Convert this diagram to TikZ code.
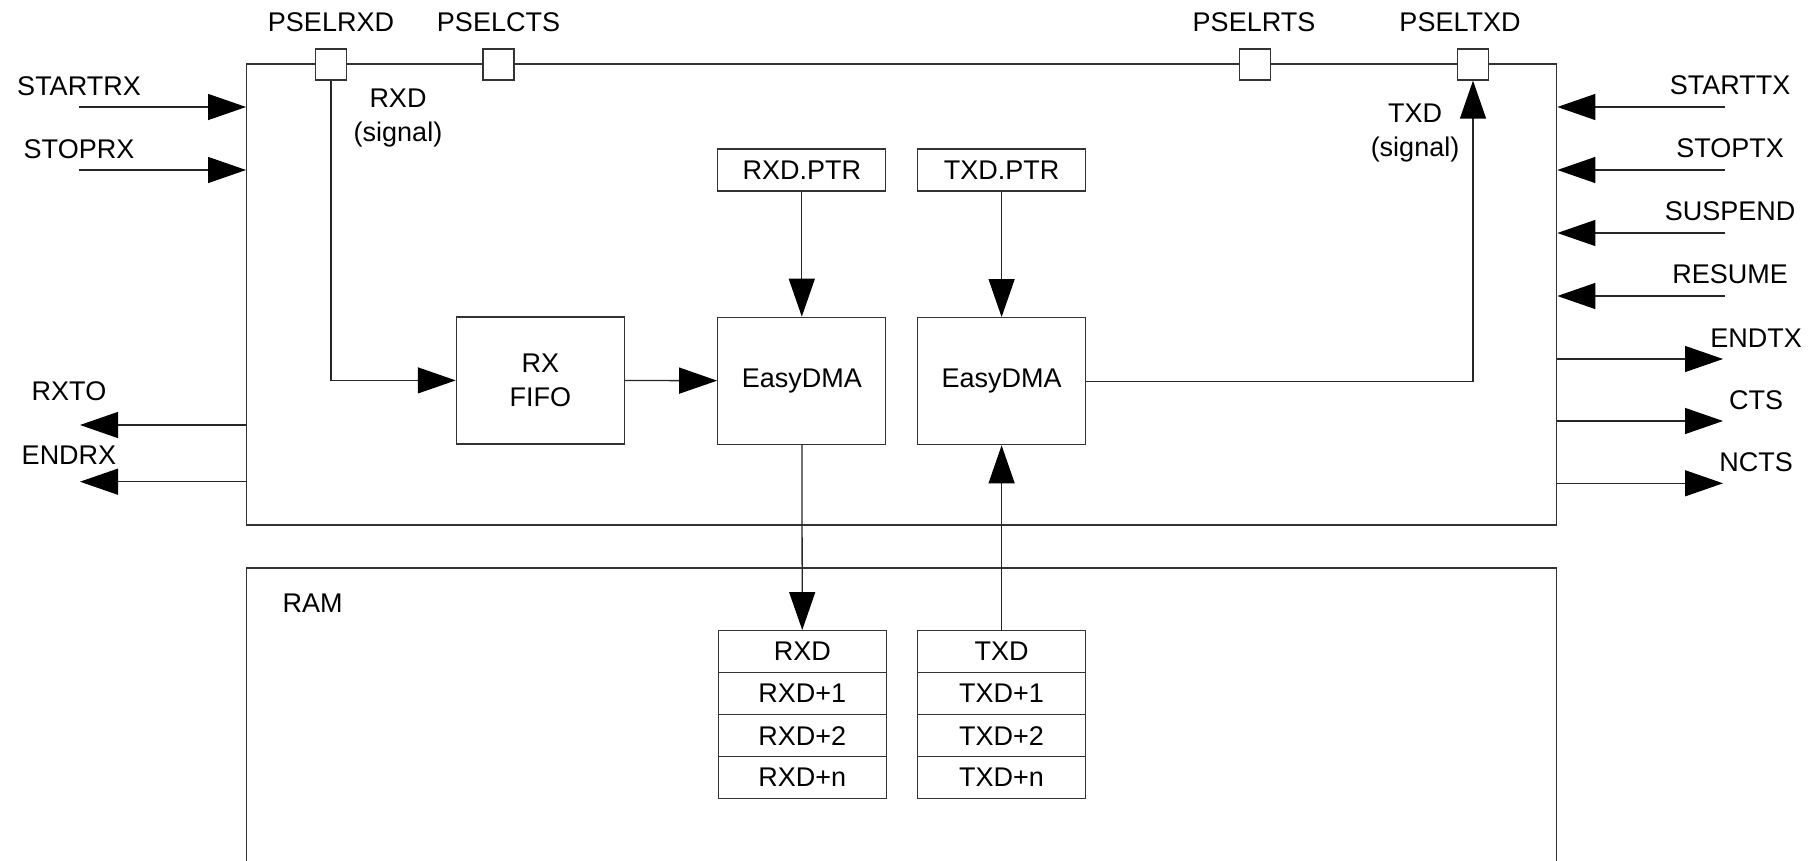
\documentclass[tikz,border=0pt]{standalone}
\usepackage{fontspec}
\setmainfont{Liberation Sans}
\usetikzlibrary{arrows.meta}

\begin{document}
\begin{tikzpicture}[x=1pt, y=-1pt,
  every node/.style={font=\fontsize{27}{34}\selectfont, align=center},
  blk/.style={draw=black!80, line width=1.3pt, fill=white, minimum width=168pt, minimum height=127pt},
  ptr/.style={blk, minimum height=42pt},
  cell/.style={blk, minimum height=42pt},
  pin/.style={draw=black!80, line width=1.3pt, fill=white, minimum size=31pt, inner sep=0pt},
  sig/.style={draw=black!85, line width=1.3pt, -{Triangle[length=38pt, width=26pt, black]}}]
  \useasboundingbox (0,0) rectangle (1809,861);

  % Outer boxes
  \node[draw=black!80, line width=1.3pt, minimum width=1310pt, minimum height=461pt] (uart) at (901.7,294.5) {};
  \node[draw=black!80, line width=1.3pt, minimum width=1310pt, minimum height=400pt] (ram) at (901.7,768) {};
  \node (ramlbl) at (312.6,603) {RAM};

  % Pins on top
  \foreach \name/\x in {PSELRXD/331, PSELCTS/498.5, PSELRTS/1255, PSELTXD/1473}
    \node[pin] (\name) at (\x,64.5) {};
  \node (lblrxdpin) at (331,22.5) {PSELRXD};
  \node (lblctspin) at (498.5,22.5) {PSELCTS};
  \node (lblrtspin) at (1254,22.5) {PSELRTS};
  \node (lbltxdpin) at (1460,22.5) {PSELTXD};

  % Blocks
  \node[blk] (rxfifo) at (540.4,380.4) {RX\\FIFO};
  \node[blk] (dmarx) at (801.8,380.8) {EasyDMA};
  \node[blk] (dmatx) at (1001.6,381.2) {EasyDMA};
  \node[ptr] (rxptr) at (801.8,170) {RXD.PTR};
  \node[ptr] (txptr) at (1001.6,170) {TXD.PTR};

  % RAM buffers
  \foreach \txt [count=\i] in {RXD,RXD+1,RXD+2,RXD+n}
    \node[cell] (rxm\i) at (802.3,609.7+42*\i) {\txt};
  \foreach \txt [count=\i] in {TXD,TXD+1,TXD+2,TXD+n}
    \node[cell] (txm\i) at (1001.6,609.7+42*\i) {\txt};

  % Data path
  \draw[sig] (PSELRXD.south) |- (rxfifo.west);
  \draw[sig] (rxfifo) -- (dmarx);
  \draw[sig] (rxptr) -- (dmarx);
  \draw[sig] (txptr) -- (dmatx);
  \draw[sig] (dmarx) -- (rxm1);
  \draw[sig] (txm1) -- (dmatx);
  \draw[sig] (dmatx.east) -| (PSELTXD.south);
  \node (rxdsig) at (398,118) {RXD\\(signal)};
  \node (txdsig) at (1415,133) {TXD\\(signal)};

  % Tasks on the left
  \foreach \name/\y in {STARTRX/107, STOPRX/170} {
    \coordinate (in\name) at (78.5,\y);
    \draw[sig] (in\name) -- (in\name -| uart.west);
    \node (lbl\name) at (79,\y-21) {\name};
  }

  % Events on the left
  \coordinate (outRXTO) at (80,425);
  \coordinate (outENDRX) at (80,481.7);
  \draw[sig] (outRXTO -| uart.west) -- (outRXTO);
  \draw[sig] (outENDRX -| uart.west) -- (outENDRX);
  \node (lblRXTO) at (69,391.7) {RXTO};
  \node (lblENDRX) at (69,455) {ENDRX};

  % Tasks on the right
  \foreach \name/\y in {STARTTX/107, STOPTX/170, SUSPEND/233, RESUME/296} {
    \coordinate (in\name) at (1725,\y);
    \draw[sig] (in\name) -- (in\name -| uart.east);
    \node (lbl\name) at (1730,\y-22) {\name};
  }

  % Events on the right
  \foreach \name/\y in {ENDTX/359, CTS/421, NCTS/483.3} {
    \coordinate (out\name) at (1723,\y);
    \draw[sig] (out\name -| uart.east) -- (out\name);
    \node (lbl\name) at (1756,\y-21) {\name};
  }
\end{tikzpicture}
\end{document}
